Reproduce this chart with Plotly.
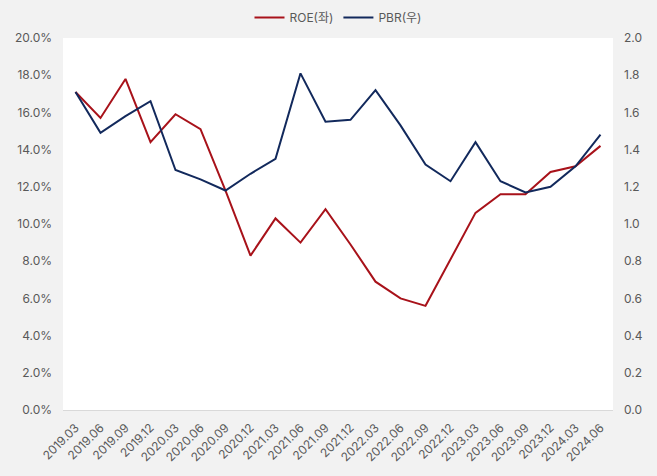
import plotly.graph_objects as go

periods = ["2019.03","2019.06","2019.09","2019.12","2020.03","2020.06","2020.09","2020.12",
           "2021.03","2021.06","2021.09","2021.12","2022.03","2022.06","2022.09","2022.12",
           "2023.03","2023.06","2023.09","2023.12","2024.03","2024.06"]
roe = [17.1, 15.7, 17.8, 14.4, 15.9, 15.1, 11.8, 8.3, 10.3, 9.0, 10.8, 8.9,
       6.9, 6.0, 5.6, 8.1, 10.6, 11.6, 11.6, 12.8, 13.1, 14.2]
pbr = [1.71, 1.49, 1.58, 1.66, 1.29, 1.24, 1.18, 1.27, 1.35, 1.81, 1.55, 1.56,
       1.72, 1.53, 1.32, 1.23, 1.44, 1.23, 1.17, 1.20, 1.31, 1.48]
left_ticks = [0, 2, 4, 6, 8, 10, 12, 14, 16, 18, 20]
right_ticks = [0, 0.2, 0.4, 0.6, 0.8, 1.0, 1.2, 1.4, 1.6, 1.8, 2.0]

FONT = "Inter, 'Noto Sans CJK KR', sans-serif"
GRAY = "#595959"

fig = go.Figure()
fig.add_trace(go.Scatter(x=periods, y=roe, name="ROE(좌)", mode="lines",
                         line=dict(color="#A8121A", width=2)))
fig.add_trace(go.Scatter(x=periods, y=pbr, name="PBR(우)", mode="lines", yaxis="y2",
                         line=dict(color="#12295C", width=2)))

fig.update_layout(
    width=657, height=476,
    paper_bgcolor="#F2F2F2", plot_bgcolor="#FFFFFF",
    margin=dict(l=63, r=44, t=38, b=66, autoexpand=False),
    font=dict(family=FONT, size=12, color=GRAY),
    legend=dict(orientation="h", x=0.5, xanchor="center", y=0.963, yanchor="middle",
                yref="container", bgcolor="rgba(0,0,0,0)", font=dict(size=12, color=GRAY),
                itemwidth=30),
    xaxis=dict(type="category", range=[-0.5, len(periods) - 0.5], tickangle=-45,
               showgrid=False, showline=True, automargin=False, ticklabelstandoff=5,
               linecolor="#D9D9D9", linewidth=1, ticks="", tickfont=dict(size=12, color=GRAY)),
    yaxis=dict(range=[0, 20], tickvals=left_ticks, automargin=False, ticklabelstandoff=10,
               ticktext=[f"{v:.1f}%" for v in left_ticks],
               showgrid=False, zeroline=False, showline=False, ticks="",
               tickfont=dict(size=12, color=GRAY)),
    yaxis2=dict(range=[0, 2.0], tickvals=right_ticks, automargin=False, ticklabelstandoff=10,
                ticktext=[f"{v:.1f}" for v in right_ticks],
                overlaying="y", side="right", showgrid=False, zeroline=False,
                showline=False, ticks="", tickfont=dict(size=12, color=GRAY)),
)

fig.write_html("out.html")
